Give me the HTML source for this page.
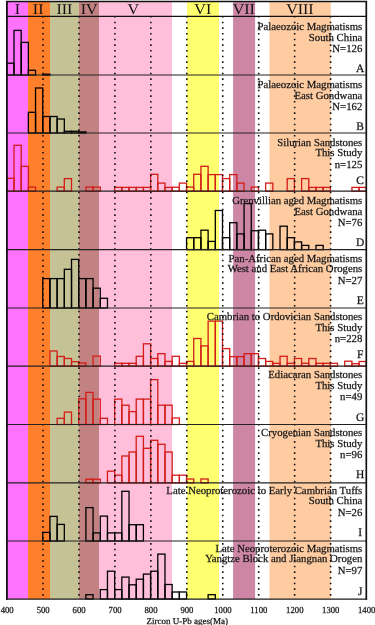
<!DOCTYPE html><html><head><meta charset="utf-8"><style>html,body{margin:0;padding:0;background:#fff;}svg{display:block;will-change:transform}text{font-family:"Liberation Serif",serif;fill:#111;text-rendering:geometricPrecision}.p{stroke:#222;stroke-width:0.25}</style></head><body>
<svg width="375" height="625" viewBox="0 0 375 625">
<rect x="6.8" y="1.8" width="21.2" height="597.2" fill="#FF73FF"/>
<rect x="28" y="1.8" width="22" height="597.2" fill="#FF7F2A"/>
<rect x="50" y="1.8" width="29" height="597.2" fill="#C5C396"/>
<rect x="79" y="1.8" width="20" height="597.2" fill="#C28282"/>
<rect x="99" y="1.8" width="73" height="597.2" fill="#FFBEDA"/>
<rect x="187" y="1.8" width="32" height="597.2" fill="#FFFF70"/>
<rect x="233.1" y="1.8" width="22" height="597.2" fill="#CE86A6"/>
<rect x="269.5" y="1.8" width="61.3" height="597.2" fill="#FFCCA2"/>
<rect x="6.8" y="63.2" width="7.19" height="11.8" fill="none" stroke="#000" stroke-width="1.3"/>
<rect x="13.99" y="30.4" width="7.19" height="44.6" fill="none" stroke="#000" stroke-width="1.3"/>
<rect x="21.18" y="42.4" width="7.19" height="32.6" fill="none" stroke="#000" stroke-width="1.3"/>
<rect x="28.37" y="70.3" width="7.19" height="4.7" fill="none" stroke="#000" stroke-width="1.3"/>
<rect x="42.75" y="74.2" width="7.19" height="0.8" fill="none" stroke="#000" stroke-width="1.3"/>
<rect x="28.37" y="112.3" width="7.19" height="20.7" fill="none" stroke="#000" stroke-width="1.3"/>
<rect x="35.56" y="88" width="7.19" height="45" fill="none" stroke="#000" stroke-width="1.3"/>
<rect x="42.75" y="116.5" width="7.19" height="16.5" fill="none" stroke="#000" stroke-width="1.3"/>
<rect x="49.94" y="116.5" width="7.19" height="16.5" fill="none" stroke="#000" stroke-width="1.3"/>
<rect x="57.13" y="119" width="7.19" height="14" fill="none" stroke="#000" stroke-width="1.3"/>
<rect x="64.32" y="131.3" width="7.19" height="1.7" fill="none" stroke="#000" stroke-width="1.3"/>
<rect x="71.51" y="131.3" width="7.19" height="1.7" fill="none" stroke="#000" stroke-width="1.3"/>
<rect x="78.7" y="131.9" width="7.19" height="1.1" fill="none" stroke="#000" stroke-width="1.3"/>
<rect x="6.8" y="178.3" width="7.19" height="12.9" fill="none" stroke="#D41C18" stroke-width="1.3"/>
<rect x="13.99" y="145.3" width="7.19" height="45.9" fill="none" stroke="#D41C18" stroke-width="1.3"/>
<rect x="21.18" y="166.3" width="7.19" height="24.9" fill="none" stroke="#D41C18" stroke-width="1.3"/>
<rect x="28.37" y="187.1" width="7.19" height="4.1" fill="none" stroke="#D41C18" stroke-width="1.3"/>
<rect x="57.13" y="187.1" width="7.19" height="4.1" fill="none" stroke="#D41C18" stroke-width="1.3"/>
<rect x="64.32" y="178.6" width="7.19" height="12.6" fill="none" stroke="#D41C18" stroke-width="1.3"/>
<rect x="85.89" y="187.1" width="7.19" height="4.1" fill="none" stroke="#D41C18" stroke-width="1.3"/>
<rect x="93.08" y="187.1" width="7.19" height="4.1" fill="none" stroke="#D41C18" stroke-width="1.3"/>
<rect x="114.65" y="187.4" width="7.19" height="3.8" fill="none" stroke="#D41C18" stroke-width="1.3"/>
<rect x="121.84" y="187.4" width="7.19" height="3.8" fill="none" stroke="#D41C18" stroke-width="1.3"/>
<rect x="129.03" y="187.4" width="7.19" height="3.8" fill="none" stroke="#D41C18" stroke-width="1.3"/>
<rect x="136.22" y="187.4" width="7.19" height="3.8" fill="none" stroke="#D41C18" stroke-width="1.3"/>
<rect x="143.41" y="187.4" width="7.19" height="3.8" fill="none" stroke="#D41C18" stroke-width="1.3"/>
<rect x="150.6" y="174.3" width="7.19" height="16.9" fill="none" stroke="#D41C18" stroke-width="1.3"/>
<rect x="157.79" y="183.1" width="7.19" height="8.1" fill="none" stroke="#D41C18" stroke-width="1.3"/>
<rect x="164.98" y="187.4" width="7.19" height="3.8" fill="none" stroke="#D41C18" stroke-width="1.3"/>
<rect x="172.17" y="187.2" width="7.19" height="4" fill="none" stroke="#D41C18" stroke-width="1.3"/>
<rect x="179.36" y="183.1" width="7.19" height="8.1" fill="none" stroke="#D41C18" stroke-width="1.3"/>
<rect x="186.55" y="187.1" width="7.19" height="4.1" fill="none" stroke="#D41C18" stroke-width="1.3"/>
<rect x="193.74" y="174.3" width="7.19" height="16.9" fill="none" stroke="#D41C18" stroke-width="1.3"/>
<rect x="200.93" y="166.3" width="7.19" height="24.9" fill="none" stroke="#D41C18" stroke-width="1.3"/>
<rect x="208.12" y="174.6" width="7.19" height="16.6" fill="none" stroke="#D41C18" stroke-width="1.3"/>
<rect x="215.31" y="174.6" width="7.19" height="16.6" fill="none" stroke="#D41C18" stroke-width="1.3"/>
<rect x="222.5" y="178.6" width="7.19" height="12.6" fill="none" stroke="#D41C18" stroke-width="1.3"/>
<rect x="229.69" y="174.6" width="7.19" height="16.6" fill="none" stroke="#D41C18" stroke-width="1.3"/>
<rect x="236.88" y="183.1" width="7.19" height="8.1" fill="none" stroke="#D41C18" stroke-width="1.3"/>
<rect x="251.26" y="187.1" width="7.19" height="4.1" fill="none" stroke="#D41C18" stroke-width="1.3"/>
<rect x="265.64" y="183.1" width="7.19" height="8.1" fill="none" stroke="#D41C18" stroke-width="1.3"/>
<rect x="287.21" y="178.6" width="7.19" height="12.6" fill="none" stroke="#D41C18" stroke-width="1.3"/>
<rect x="301.59" y="178.6" width="7.19" height="12.6" fill="none" stroke="#D41C18" stroke-width="1.3"/>
<rect x="308.78" y="187.4" width="7.19" height="3.8" fill="none" stroke="#D41C18" stroke-width="1.3"/>
<rect x="315.97" y="187.4" width="7.19" height="3.8" fill="none" stroke="#D41C18" stroke-width="1.3"/>
<rect x="323.16" y="187.4" width="7.19" height="3.8" fill="none" stroke="#D41C18" stroke-width="1.3"/>
<rect x="351.92" y="187.4" width="7.19" height="3.8" fill="none" stroke="#D41C18" stroke-width="1.3"/>
<rect x="359.11" y="187.4" width="7.19" height="3.8" fill="none" stroke="#D41C18" stroke-width="1.3"/>
<rect x="186.55" y="237.7" width="7.19" height="11.9" fill="none" stroke="#000" stroke-width="1.3"/>
<rect x="193.74" y="237.7" width="7.19" height="11.9" fill="none" stroke="#000" stroke-width="1.3"/>
<rect x="200.93" y="230.2" width="7.19" height="19.4" fill="none" stroke="#000" stroke-width="1.3"/>
<rect x="208.12" y="241.4" width="7.19" height="8.2" fill="none" stroke="#000" stroke-width="1.3"/>
<rect x="215.31" y="210.5" width="7.19" height="39.1" fill="none" stroke="#000" stroke-width="1.3"/>
<rect x="222.5" y="237.7" width="7.19" height="11.9" fill="none" stroke="#000" stroke-width="1.3"/>
<rect x="229.69" y="222.7" width="7.19" height="26.9" fill="none" stroke="#000" stroke-width="1.3"/>
<rect x="236.88" y="233.9" width="7.19" height="15.7" fill="none" stroke="#000" stroke-width="1.3"/>
<rect x="244.07" y="203.5" width="7.19" height="46.1" fill="none" stroke="#000" stroke-width="1.3"/>
<rect x="251.26" y="230.7" width="7.19" height="18.9" fill="none" stroke="#000" stroke-width="1.3"/>
<rect x="258.45" y="230.2" width="7.19" height="19.4" fill="none" stroke="#000" stroke-width="1.3"/>
<rect x="265.64" y="233.9" width="7.19" height="15.7" fill="none" stroke="#000" stroke-width="1.3"/>
<rect x="280.02" y="226.2" width="7.19" height="23.4" fill="none" stroke="#000" stroke-width="1.3"/>
<rect x="287.21" y="237.7" width="7.19" height="11.9" fill="none" stroke="#000" stroke-width="1.3"/>
<rect x="294.4" y="241.9" width="7.19" height="7.7" fill="none" stroke="#000" stroke-width="1.3"/>
<rect x="301.59" y="245.4" width="7.19" height="4.2" fill="none" stroke="#000" stroke-width="1.3"/>
<rect x="315.97" y="245.4" width="7.19" height="4.2" fill="none" stroke="#000" stroke-width="1.3"/>
<rect x="42.75" y="278.6" width="7.19" height="29.4" fill="none" stroke="#000" stroke-width="1.3"/>
<rect x="49.94" y="278.6" width="7.19" height="29.4" fill="none" stroke="#000" stroke-width="1.3"/>
<rect x="57.13" y="278.6" width="7.19" height="29.4" fill="none" stroke="#000" stroke-width="1.3"/>
<rect x="64.32" y="269.3" width="7.19" height="38.7" fill="none" stroke="#000" stroke-width="1.3"/>
<rect x="71.51" y="259.4" width="7.19" height="48.6" fill="none" stroke="#000" stroke-width="1.3"/>
<rect x="78.7" y="278.6" width="7.19" height="29.4" fill="none" stroke="#000" stroke-width="1.3"/>
<rect x="85.89" y="278.6" width="7.19" height="29.4" fill="none" stroke="#000" stroke-width="1.3"/>
<rect x="93.08" y="288.2" width="7.19" height="19.8" fill="none" stroke="#000" stroke-width="1.3"/>
<rect x="100.27" y="298.3" width="7.19" height="9.7" fill="none" stroke="#000" stroke-width="1.3"/>
<rect x="49.94" y="351" width="7.19" height="15.1" fill="none" stroke="#D41C18" stroke-width="1.3"/>
<rect x="57.13" y="356.5" width="7.19" height="9.6" fill="none" stroke="#D41C18" stroke-width="1.3"/>
<rect x="64.32" y="358.5" width="7.19" height="7.6" fill="none" stroke="#D41C18" stroke-width="1.3"/>
<rect x="71.51" y="361.7" width="7.19" height="4.4" fill="none" stroke="#D41C18" stroke-width="1.3"/>
<rect x="78.7" y="363" width="7.19" height="3.1" fill="none" stroke="#D41C18" stroke-width="1.3"/>
<rect x="93.08" y="356.1" width="7.19" height="10" fill="none" stroke="#D41C18" stroke-width="1.3"/>
<rect x="114.65" y="363.3" width="7.19" height="2.8" fill="none" stroke="#D41C18" stroke-width="1.3"/>
<rect x="121.84" y="363.3" width="7.19" height="2.8" fill="none" stroke="#D41C18" stroke-width="1.3"/>
<rect x="129.03" y="363.3" width="7.19" height="2.8" fill="none" stroke="#D41C18" stroke-width="1.3"/>
<rect x="136.22" y="356.3" width="7.19" height="9.8" fill="none" stroke="#D41C18" stroke-width="1.3"/>
<rect x="143.41" y="343.8" width="7.19" height="22.3" fill="none" stroke="#D41C18" stroke-width="1.3"/>
<rect x="150.6" y="358.5" width="7.19" height="7.6" fill="none" stroke="#D41C18" stroke-width="1.3"/>
<rect x="157.79" y="353.7" width="7.19" height="12.4" fill="none" stroke="#D41C18" stroke-width="1.3"/>
<rect x="164.98" y="361.4" width="7.19" height="4.7" fill="none" stroke="#D41C18" stroke-width="1.3"/>
<rect x="172.17" y="356.3" width="7.19" height="9.8" fill="none" stroke="#D41C18" stroke-width="1.3"/>
<rect x="179.36" y="363.3" width="7.19" height="2.8" fill="none" stroke="#D41C18" stroke-width="1.3"/>
<rect x="186.55" y="361.4" width="7.19" height="4.7" fill="none" stroke="#D41C18" stroke-width="1.3"/>
<rect x="193.74" y="338.5" width="7.19" height="27.6" fill="none" stroke="#D41C18" stroke-width="1.3"/>
<rect x="200.93" y="345.9" width="7.19" height="20.2" fill="none" stroke="#D41C18" stroke-width="1.3"/>
<rect x="208.12" y="321.1" width="7.19" height="45" fill="none" stroke="#D41C18" stroke-width="1.3"/>
<rect x="215.31" y="321.1" width="7.19" height="45" fill="none" stroke="#D41C18" stroke-width="1.3"/>
<rect x="222.5" y="348.6" width="7.19" height="17.5" fill="none" stroke="#D41C18" stroke-width="1.3"/>
<rect x="229.69" y="356.6" width="7.19" height="9.5" fill="none" stroke="#D41C18" stroke-width="1.3"/>
<rect x="236.88" y="356.6" width="7.19" height="9.5" fill="none" stroke="#D41C18" stroke-width="1.3"/>
<rect x="244.07" y="353.7" width="7.19" height="12.4" fill="none" stroke="#D41C18" stroke-width="1.3"/>
<rect x="251.26" y="353.7" width="7.19" height="12.4" fill="none" stroke="#D41C18" stroke-width="1.3"/>
<rect x="258.45" y="358.5" width="7.19" height="7.6" fill="none" stroke="#D41C18" stroke-width="1.3"/>
<rect x="265.64" y="361.4" width="7.19" height="4.7" fill="none" stroke="#D41C18" stroke-width="1.3"/>
<rect x="272.83" y="363.3" width="7.19" height="2.8" fill="none" stroke="#D41C18" stroke-width="1.3"/>
<rect x="280.02" y="356.3" width="7.19" height="9.8" fill="none" stroke="#D41C18" stroke-width="1.3"/>
<rect x="287.21" y="363.3" width="7.19" height="2.8" fill="none" stroke="#D41C18" stroke-width="1.3"/>
<rect x="294.4" y="358.5" width="7.19" height="7.6" fill="none" stroke="#D41C18" stroke-width="1.3"/>
<rect x="301.59" y="363.3" width="7.19" height="2.8" fill="none" stroke="#D41C18" stroke-width="1.3"/>
<rect x="308.78" y="358.5" width="7.19" height="7.6" fill="none" stroke="#D41C18" stroke-width="1.3"/>
<rect x="315.97" y="363.3" width="7.19" height="2.8" fill="none" stroke="#D41C18" stroke-width="1.3"/>
<rect x="323.16" y="363.3" width="7.19" height="2.8" fill="none" stroke="#D41C18" stroke-width="1.3"/>
<rect x="330.35" y="363.3" width="7.19" height="2.8" fill="none" stroke="#D41C18" stroke-width="1.3"/>
<rect x="344.73" y="361.2" width="7.19" height="4.9" fill="none" stroke="#D41C18" stroke-width="1.3"/>
<rect x="351.92" y="363.7" width="7.19" height="2.4" fill="none" stroke="#D41C18" stroke-width="1.3"/>
<rect x="359.11" y="361.5" width="7.19" height="4.6" fill="none" stroke="#D41C18" stroke-width="1.3"/>
<rect x="57.13" y="418.3" width="7.19" height="6.2" fill="none" stroke="#D41C18" stroke-width="1.3"/>
<rect x="64.32" y="412.1" width="7.19" height="12.4" fill="none" stroke="#D41C18" stroke-width="1.3"/>
<rect x="78.7" y="398.8" width="7.19" height="25.7" fill="none" stroke="#D41C18" stroke-width="1.3"/>
<rect x="85.89" y="392.4" width="7.19" height="32.1" fill="none" stroke="#D41C18" stroke-width="1.3"/>
<rect x="93.08" y="399.1" width="7.19" height="25.4" fill="none" stroke="#D41C18" stroke-width="1.3"/>
<rect x="100.27" y="418.3" width="7.19" height="6.2" fill="none" stroke="#D41C18" stroke-width="1.3"/>
<rect x="114.65" y="399.1" width="7.19" height="25.4" fill="none" stroke="#D41C18" stroke-width="1.3"/>
<rect x="121.84" y="405.2" width="7.19" height="19.3" fill="none" stroke="#D41C18" stroke-width="1.3"/>
<rect x="129.03" y="411.6" width="7.19" height="12.9" fill="none" stroke="#D41C18" stroke-width="1.3"/>
<rect x="136.22" y="399.1" width="7.19" height="25.4" fill="none" stroke="#D41C18" stroke-width="1.3"/>
<rect x="143.41" y="399.1" width="7.19" height="25.4" fill="none" stroke="#D41C18" stroke-width="1.3"/>
<rect x="150.6" y="379.6" width="7.19" height="44.9" fill="none" stroke="#D41C18" stroke-width="1.3"/>
<rect x="157.79" y="405.2" width="7.19" height="19.3" fill="none" stroke="#D41C18" stroke-width="1.3"/>
<rect x="164.98" y="405.2" width="7.19" height="19.3" fill="none" stroke="#D41C18" stroke-width="1.3"/>
<rect x="172.17" y="418" width="7.19" height="6.5" fill="none" stroke="#D41C18" stroke-width="1.3"/>
<rect x="85.89" y="479.2" width="7.19" height="3.7" fill="none" stroke="#D41C18" stroke-width="1.3"/>
<rect x="93.08" y="479.2" width="7.19" height="3.7" fill="none" stroke="#D41C18" stroke-width="1.3"/>
<rect x="107.46" y="471.2" width="7.19" height="11.7" fill="none" stroke="#D41C18" stroke-width="1.3"/>
<rect x="114.65" y="475.2" width="7.19" height="7.7" fill="none" stroke="#D41C18" stroke-width="1.3"/>
<rect x="121.84" y="456" width="7.19" height="26.9" fill="none" stroke="#D41C18" stroke-width="1.3"/>
<rect x="129.03" y="452" width="7.19" height="30.9" fill="none" stroke="#D41C18" stroke-width="1.3"/>
<rect x="136.22" y="436.3" width="7.19" height="46.6" fill="none" stroke="#D41C18" stroke-width="1.3"/>
<rect x="143.41" y="448.3" width="7.19" height="34.6" fill="none" stroke="#D41C18" stroke-width="1.3"/>
<rect x="150.6" y="440.3" width="7.19" height="42.6" fill="none" stroke="#D41C18" stroke-width="1.3"/>
<rect x="157.79" y="444.3" width="7.19" height="38.6" fill="none" stroke="#D41C18" stroke-width="1.3"/>
<rect x="164.98" y="452" width="7.19" height="30.9" fill="none" stroke="#D41C18" stroke-width="1.3"/>
<rect x="172.17" y="475.2" width="7.19" height="7.7" fill="none" stroke="#D41C18" stroke-width="1.3"/>
<rect x="179.36" y="475.2" width="7.19" height="7.7" fill="none" stroke="#D41C18" stroke-width="1.3"/>
<rect x="186.55" y="479" width="7.19" height="3.9" fill="none" stroke="#D41C18" stroke-width="1.3"/>
<rect x="200.93" y="479" width="7.19" height="3.9" fill="none" stroke="#D41C18" stroke-width="1.3"/>
<rect x="42.75" y="532.4" width="7.19" height="8.6" fill="none" stroke="#000" stroke-width="1.3"/>
<rect x="49.94" y="516.4" width="7.19" height="24.6" fill="none" stroke="#000" stroke-width="1.3"/>
<rect x="57.13" y="524.4" width="7.19" height="16.6" fill="none" stroke="#000" stroke-width="1.3"/>
<rect x="85.89" y="507.6" width="7.19" height="33.4" fill="none" stroke="#000" stroke-width="1.3"/>
<rect x="93.08" y="532.9" width="7.19" height="8.1" fill="none" stroke="#000" stroke-width="1.3"/>
<rect x="100.27" y="516.1" width="7.19" height="24.9" fill="none" stroke="#000" stroke-width="1.3"/>
<rect x="107.46" y="532.9" width="7.19" height="8.1" fill="none" stroke="#000" stroke-width="1.3"/>
<rect x="114.65" y="532.9" width="7.19" height="8.1" fill="none" stroke="#000" stroke-width="1.3"/>
<rect x="121.84" y="491.3" width="7.19" height="49.7" fill="none" stroke="#000" stroke-width="1.3"/>
<rect x="129.03" y="524.7" width="7.19" height="16.3" fill="none" stroke="#000" stroke-width="1.3"/>
<rect x="136.22" y="524.7" width="7.19" height="16.3" fill="none" stroke="#000" stroke-width="1.3"/>
<rect x="85.89" y="594.7" width="7.19" height="4.3" fill="none" stroke="#000" stroke-width="1.3"/>
<rect x="100.27" y="589.6" width="7.19" height="9.4" fill="none" stroke="#000" stroke-width="1.3"/>
<rect x="107.46" y="571.2" width="7.19" height="27.8" fill="none" stroke="#000" stroke-width="1.3"/>
<rect x="114.65" y="589.6" width="7.19" height="9.4" fill="none" stroke="#000" stroke-width="1.3"/>
<rect x="121.84" y="577.1" width="7.19" height="21.9" fill="none" stroke="#000" stroke-width="1.3"/>
<rect x="129.03" y="584.8" width="7.19" height="14.2" fill="none" stroke="#000" stroke-width="1.3"/>
<rect x="136.22" y="579.2" width="7.19" height="19.8" fill="none" stroke="#000" stroke-width="1.3"/>
<rect x="143.41" y="574.1" width="7.19" height="24.9" fill="none" stroke="#000" stroke-width="1.3"/>
<rect x="150.6" y="571.2" width="7.19" height="27.8" fill="none" stroke="#000" stroke-width="1.3"/>
<rect x="157.79" y="554.1" width="7.19" height="44.9" fill="none" stroke="#000" stroke-width="1.3"/>
<rect x="164.98" y="584.5" width="7.19" height="14.5" fill="none" stroke="#000" stroke-width="1.3"/>
<rect x="172.17" y="592" width="7.19" height="7" fill="none" stroke="#000" stroke-width="1.3"/>
<rect x="179.36" y="592" width="7.19" height="7" fill="none" stroke="#000" stroke-width="1.3"/>
<rect x="208.12" y="594.7" width="7.19" height="4.3" fill="none" stroke="#000" stroke-width="1.3"/>
<line x1="43" y1="16" x2="43" y2="599" stroke="#111" stroke-width="1.6" stroke-dasharray="1.6 4.067"/>
<line x1="78.95" y1="16" x2="78.95" y2="599" stroke="#111" stroke-width="1.6" stroke-dasharray="1.6 4.067"/>
<line x1="114.9" y1="16" x2="114.9" y2="599" stroke="#111" stroke-width="1.6" stroke-dasharray="1.6 4.067"/>
<line x1="150.85" y1="16" x2="150.85" y2="599" stroke="#111" stroke-width="1.6" stroke-dasharray="1.6 4.067"/>
<line x1="186.8" y1="16" x2="186.8" y2="599" stroke="#111" stroke-width="1.6" stroke-dasharray="1.6 4.067"/>
<line x1="222.75" y1="16" x2="222.75" y2="599" stroke="#111" stroke-width="1.6" stroke-dasharray="1.6 4.067"/>
<line x1="258.7" y1="16" x2="258.7" y2="599" stroke="#111" stroke-width="1.6" stroke-dasharray="1.6 4.067"/>
<line x1="294.65" y1="16" x2="294.65" y2="599" stroke="#111" stroke-width="1.6" stroke-dasharray="1.6 4.067"/>
<line x1="330.6" y1="16" x2="330.6" y2="599" stroke="#111" stroke-width="1.6" stroke-dasharray="1.6 4.067"/>
<line x1="6.8" y1="75" x2="366.3" y2="75" stroke="#222" stroke-width="1.2"/>
<line x1="6.8" y1="133" x2="366.3" y2="133" stroke="#222" stroke-width="1.2"/>
<line x1="6.8" y1="191.2" x2="366.3" y2="191.2" stroke="#222" stroke-width="1.2"/>
<line x1="6.8" y1="249.6" x2="366.3" y2="249.6" stroke="#222" stroke-width="1.2"/>
<line x1="6.8" y1="308" x2="366.3" y2="308" stroke="#222" stroke-width="1.2"/>
<line x1="6.8" y1="366.1" x2="366.3" y2="366.1" stroke="#222" stroke-width="1.2"/>
<line x1="6.8" y1="424.5" x2="366.3" y2="424.5" stroke="#222" stroke-width="1.2"/>
<line x1="6.8" y1="482.9" x2="366.3" y2="482.9" stroke="#222" stroke-width="1.2"/>
<line x1="6.8" y1="541" x2="366.3" y2="541" stroke="#222" stroke-width="1.2"/>
<line x1="6.8" y1="16.3" x2="366.3" y2="16.3" stroke="#111" stroke-width="1.3"/>
<line x1="6" y1="1.5" x2="367.1" y2="1.5" stroke="#111" stroke-width="1.3"/>
<line x1="6" y1="599.1" x2="367.1" y2="599.1" stroke="#1a1a1a" stroke-width="1.2"/>
<line x1="6.9" y1="0.9" x2="6.9" y2="599.7" stroke="#111" stroke-width="1.8"/>
<line x1="366.3" y1="0.9" x2="366.3" y2="599.7" stroke="#111" stroke-width="1.7"/>
<text x="0" y="13.9" font-size="14.8" text-anchor="middle" transform="translate(17.35 0) scale(1.08 1)">I</text>
<text x="0" y="13.9" font-size="14.8" text-anchor="middle" transform="translate(38.15 0) scale(1.08 1)">II</text>
<text x="0" y="13.9" font-size="14.8" text-anchor="middle" transform="translate(64.4 0) scale(1.08 1)">III</text>
<text x="0" y="13.9" font-size="14.8" text-anchor="middle" transform="translate(89.2 0) scale(1.08 1)">IV</text>
<text x="0" y="13.9" font-size="14.8" text-anchor="middle" transform="translate(133.2 0) scale(1.08 1)">V</text>
<text x="0" y="13.9" font-size="14.8" text-anchor="middle" transform="translate(202.8 0) scale(1.08 1)">VI</text>
<text x="0" y="13.9" font-size="14.8" text-anchor="middle" transform="translate(243.8 0) scale(1.08 1)">VII</text>
<text x="0" y="13.9" font-size="14.8" text-anchor="middle" transform="translate(299.9 0) scale(1.08 1)">VIII</text>
<text x="362.3" y="30.1" font-size="10.75" text-anchor="end" class="p">Palaeozoic Magmatisms</text>
<text x="362.3" y="40.9" font-size="10.75" text-anchor="end" class="p">South China</text>
<text x="362.3" y="51.9" font-size="10.75" text-anchor="end" class="p">N=126</text>
<text x="360.2" y="71.5" font-size="11.5" text-anchor="middle" class="p">A</text>
<text x="362.3" y="87.6" font-size="10.75" text-anchor="end" class="p">Palaeozoic Magmatisms</text>
<text x="362.3" y="98.8" font-size="10.75" text-anchor="end" class="p">East Gondwana</text>
<text x="362.3" y="110" font-size="10.75" text-anchor="end" class="p">N=162</text>
<text x="360.2" y="129.7" font-size="11.5" text-anchor="middle" class="p">B</text>
<text x="362.3" y="145.9" font-size="10.75" text-anchor="end" class="p">Silurian Sandstones</text>
<text x="362.3" y="156.3" font-size="10.75" text-anchor="end" class="p">This Study</text>
<text x="362.3" y="168" font-size="10.75" text-anchor="end" class="p">n=125</text>
<text x="360.2" y="183.8" font-size="11.5" text-anchor="middle" class="p">C</text>
<text x="362.3" y="203.6" font-size="10.75" text-anchor="end" class="p">Grenvillian aged Magmatisms</text>
<text x="362.3" y="214.5" font-size="10.75" text-anchor="end" class="p">East Gondwana</text>
<text x="362.3" y="226" font-size="10.75" text-anchor="end" class="p">N=76</text>
<text x="360.2" y="245.8" font-size="11.5" text-anchor="middle" class="p">D</text>
<text x="362.3" y="261.6" font-size="10.75" text-anchor="end" class="p">Pan-African aged Magmatisms</text>
<text x="362.3" y="272.3" font-size="10.75" text-anchor="end" class="p">West and East African Orogens</text>
<text x="362.3" y="284" font-size="10.75" text-anchor="end" class="p">N=27</text>
<text x="360.2" y="304" font-size="11.5" text-anchor="middle" class="p">E</text>
<text x="362.3" y="320.1" font-size="10.75" text-anchor="end" class="p">Cambrian to Ordovician Sandstones</text>
<text x="362.3" y="330.5" font-size="10.75" text-anchor="end" class="p">This Study</text>
<text x="362.3" y="341.7" font-size="10.75" text-anchor="end" class="p">n=228</text>
<text x="360.2" y="357.7" font-size="11.5" text-anchor="middle" class="p">F</text>
<text x="362.3" y="378.1" font-size="10.75" text-anchor="end" class="p">Ediacaran Sandstones</text>
<text x="362.3" y="388.5" font-size="10.75" text-anchor="end" class="p">This Study</text>
<text x="362.3" y="399.7" font-size="10.75" text-anchor="end" class="p">n=49</text>
<text x="360.2" y="420.9" font-size="11.5" text-anchor="middle" class="p">G</text>
<text x="362.3" y="436.1" font-size="10.75" text-anchor="end" class="p">Cryogenian Sandstones</text>
<text x="362.3" y="446.5" font-size="10.75" text-anchor="end" class="p">This Study</text>
<text x="362.3" y="457.7" font-size="10.75" text-anchor="end" class="p">n=96</text>
<text x="360.2" y="477.7" font-size="11.5" text-anchor="middle" class="p">H</text>
<text x="362.3" y="493.6" font-size="10.75" text-anchor="end" class="p">Late Neoproterozoic to Early Cambrian Tuffs</text>
<text x="362.3" y="504.2" font-size="10.75" text-anchor="end" class="p">South China</text>
<text x="362.3" y="515.7" font-size="10.75" text-anchor="end" class="p">N=26</text>
<text x="360.2" y="535.7" font-size="11.5" text-anchor="middle" class="p">I</text>
<text x="362.3" y="551.6" font-size="10.75" text-anchor="end" class="p">Late Neoproterozoic Magmatisms</text>
<text x="362.3" y="562.2" font-size="10.75" text-anchor="end" class="p">Yangtze Block and Jiangnan Orogen</text>
<text x="362.3" y="574.2" font-size="10.75" text-anchor="end" class="p">N=97</text>
<text x="360.2" y="594.5" font-size="11.5" text-anchor="middle" class="p">J</text>
<text x="7.2" y="612.6" font-size="8.7" text-anchor="middle" class="p" transform="translate(0 -36.76) scale(1 1.06)">400</text>
<text x="43.15" y="612.6" font-size="8.7" text-anchor="middle" class="p" transform="translate(0 -36.76) scale(1 1.06)">500</text>
<text x="79.1" y="612.6" font-size="8.7" text-anchor="middle" class="p" transform="translate(0 -36.76) scale(1 1.06)">600</text>
<text x="115.05" y="612.6" font-size="8.7" text-anchor="middle" class="p" transform="translate(0 -36.76) scale(1 1.06)">700</text>
<text x="151" y="612.6" font-size="8.7" text-anchor="middle" class="p" transform="translate(0 -36.76) scale(1 1.06)">800</text>
<text x="186.95" y="612.6" font-size="8.7" text-anchor="middle" class="p" transform="translate(0 -36.76) scale(1 1.06)">900</text>
<text x="222.9" y="612.6" font-size="8.7" text-anchor="middle" class="p" transform="translate(0 -36.76) scale(1 1.06)">1000</text>
<text x="258.85" y="612.6" font-size="8.7" text-anchor="middle" class="p" transform="translate(0 -36.76) scale(1 1.06)">1100</text>
<text x="294.8" y="612.6" font-size="8.7" text-anchor="middle" class="p" transform="translate(0 -36.76) scale(1 1.06)">1200</text>
<text x="330.75" y="612.6" font-size="8.7" text-anchor="middle" class="p" transform="translate(0 -36.76) scale(1 1.06)">1300</text>
<text x="366.7" y="612.6" font-size="8.7" text-anchor="middle" class="p" transform="translate(0 -36.76) scale(1 1.06)">1400</text>
<text x="187.2" y="623.8" font-size="9" text-anchor="middle" class="p">Zircon U-Pb ages(Ma)</text>
</svg></body></html>
